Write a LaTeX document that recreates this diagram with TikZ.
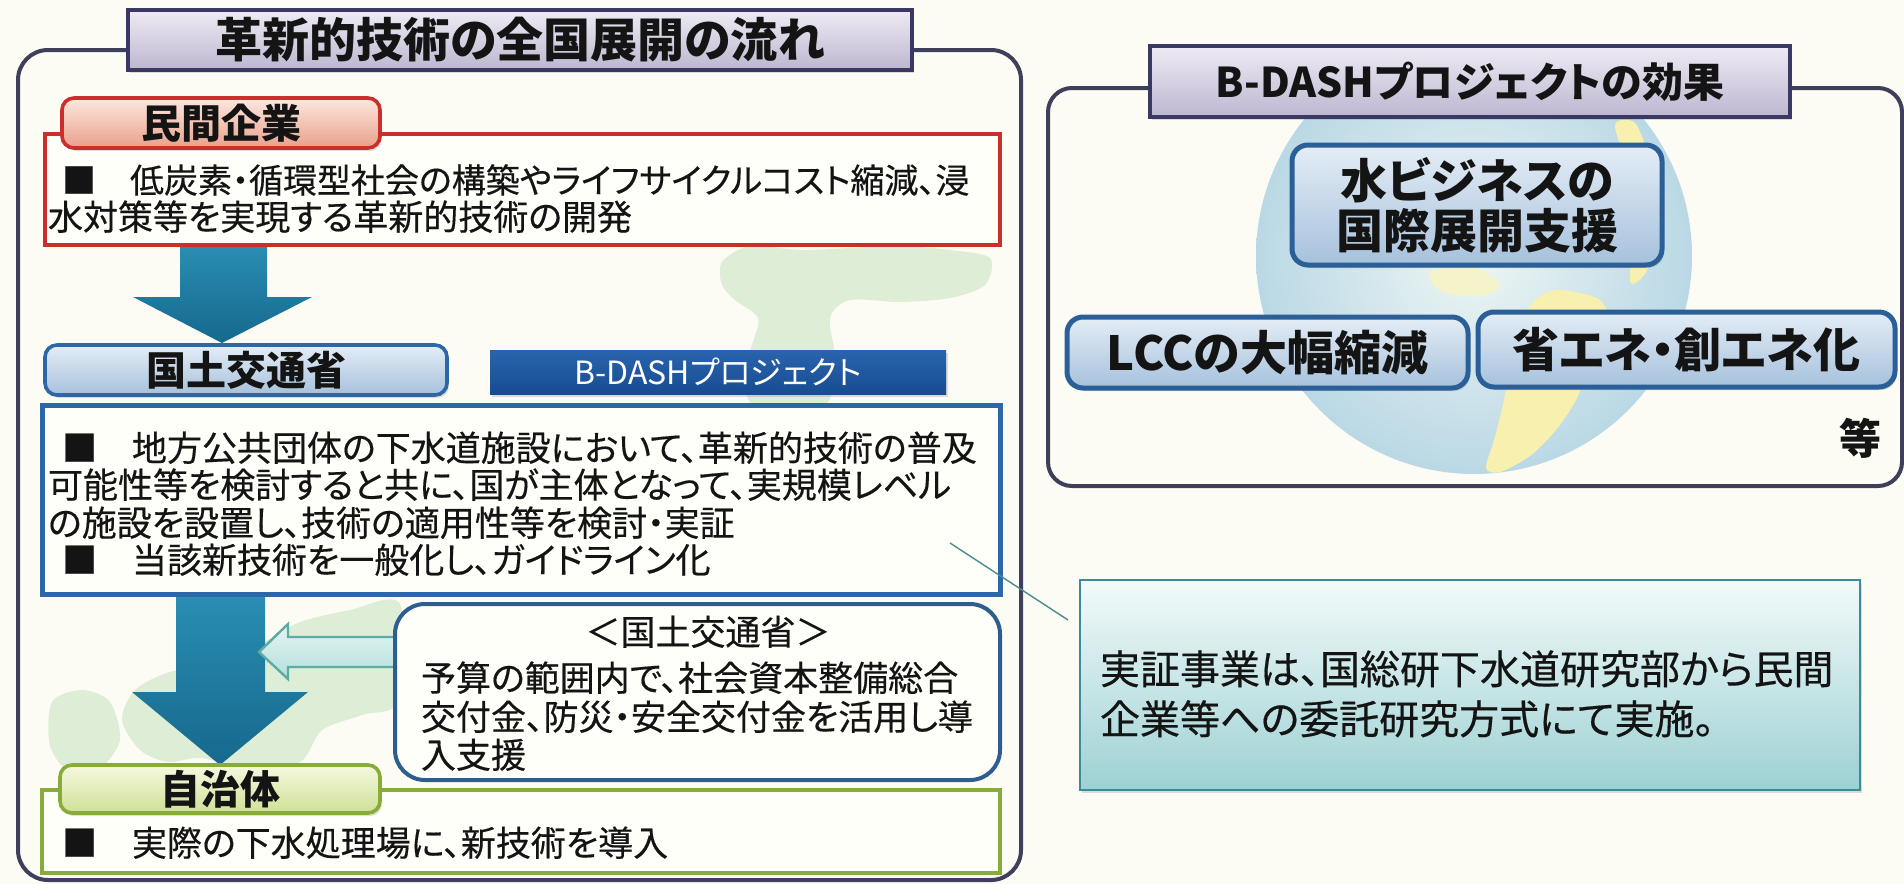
\documentclass[tikz,border=0pt]{standalone}
\usepackage{fontspec}
\setmainfont{Noto Sans CJK JP}[RawFeature=+palt]
\newfontfamily\jpbody{Noto Sans CJK JP}[RawFeature=+palt, FakeBold=0.4]
\usetikzlibrary{fit,shadows}

\definecolor{paper}{HTML}{FCFCF4}
\definecolor{boxwhite}{HTML}{FFFFFA}
\definecolor{frameC}{HTML}{3F3F5C}
\definecolor{titleT}{HTML}{EFEBF4}
\definecolor{titleB}{HTML}{BDB6D0}
\definecolor{titleD}{HTML}{3A3966}
\definecolor{redD}{HTML}{C9302C}
\definecolor{redT}{HTML}{FCE8DF}
\definecolor{redB}{HTML}{E9A08A}
\definecolor{blueD}{HTML}{2C67A8}
\definecolor{blueT}{HTML}{E4EDF6}
\definecolor{blueB}{HTML}{A6C1DC}
\definecolor{barT}{HTML}{2A64AE}
\definecolor{barB}{HTML}{174C90}
\definecolor{greenD}{HTML}{88AC3A}
\definecolor{greenT}{HTML}{F6F9E0}
\definecolor{greenB}{HTML}{CFE095}
\definecolor{arrowT}{HTML}{2A8DB3}
\definecolor{arrowB}{HTML}{15698C}
\definecolor{aquaT}{HTML}{E4F5F3}
\definecolor{aquaB}{HTML}{B3DFDB}
\definecolor{aquaD}{HTML}{5DAAA7}
\definecolor{subD}{HTML}{2D5E8F}
\definecolor{effD}{HTML}{2A5F98}
\definecolor{noteT}{HTML}{F3FAFA}
\definecolor{noteB}{HTML}{9DD1D3}
\definecolor{noteD}{HTML}{3B8B98}
\definecolor{mapG}{HTML}{DDEDD6}
\definecolor{globeIn}{HTML}{EEF6F4}
\definecolor{globeOut}{HTML}{BAD8E5}
\definecolor{landY}{HTML}{F7F0AE}
\definecolor{connC}{HTML}{4C8C8E}
\definecolor{ink}{HTML}{141414}

\tikzset{
  every node/.style={inner sep=0pt, outer sep=0pt, text=ink},
  softshadow/.style={drop shadow={opacity=0.25, shadow xshift=1pt, shadow yshift=-1.5pt}},
  panel/.style={draw=frameC, line width=2pt, rounded corners=15pt},
  headbox/.style={draw=titleD, line width=2pt, top color=titleT, bottom color=titleB, softshadow},
  headtext/.style={font=\fontsize{23.5}{28}\selectfont\bfseries},
  tagbox/.style={line width=1.8pt, rounded corners=6pt, softshadow},
  tagtext/.style={font=\fontsize{20}{24}\selectfont\bfseries},
  redtag/.style={tagbox, draw=redD, top color=redT, bottom color=redB},
  bluetag/.style={tagbox, draw=blueD, top color=blueT, bottom color=blueB},
  greentag/.style={tagbox, draw=greenD, top color=greenT, bottom color=greenB},
  bodybox/.style={fill=boxwhite, line width=2pt},
  bar/.style={top color=barT, bottom color=barB, softshadow},
  bartext/.style={text=white, font=\fontsize{16}{19}\selectfont},
  txt/.style={anchor=base west, font=\jpbody\fontsize{17.5}{21}\selectfont},
  subbox/.style={draw=subD, fill=boxwhite, line width=2pt, rounded corners=15pt},
  bigarrow/.style={top color=arrowT, bottom color=arrowB},
  aquaarrow/.style={draw=aquaD, line width=1.2pt, top color=aquaT, bottom color=aquaB},
  effbox/.style={draw=effD, line width=2.5pt, rounded corners=8pt, top color=blueT,
    bottom color=blueB, softshadow},
  efftext/.style={align=center, font=\fontsize{23.5}{25}\selectfont\bfseries},
  notebox/.style={draw=noteD, line width=0.9pt, top color=noteT, bottom color=noteB, softshadow},
  notetxt/.style={anchor=base west, font=\jpbody\fontsize{20}{24}\selectfont},
  conn/.style={draw=connC, line width=0.7pt},
}

\begin{document}
\begin{tikzpicture}[x=0.5pt,y=-0.5pt]
\fill[paper] (0,0) rectangle (1904,884);
\useasboundingbox (0,0) rectangle (1904,884);

% faint map of Japan behind the left panel
\fill[mapG] plot[smooth cycle, tension=0.5] coordinates {(722,262) (750,246) (800,250) (850,248)
  (900,246) (950,250) (990,258) (985,285) (950,298) (900,302) (850,300) (830,318) (835,360)
  (825,405) (760,410) (742,380) (752,345) (758,318) (735,300) (722,285)};
\fill[mapG] plot[smooth cycle, tension=0.5] coordinates {(135,690) (170,672) (230,660) (268,640)
  (300,622) (350,610) (400,604) (400,700) (362,715) (322,730) (300,762) (250,768) (200,758)
  (168,762) (140,750) (122,720)};
\fill[mapG] plot[smooth cycle, tension=0.5] coordinates {(52,702) (82,690) (110,702) (120,740)
  (100,768) (70,772) (50,746)};

% left panel: nationwide roll-out of new technology
\node[panel, fit={(18,50) (1021,880)}] (leftpanel) {};
\node[headbox, fit={(128,10) (912,70)}] (lefthead) {};
\node[headtext] (leftheadtext) at (lefthead.center) {革新的技術の全国展開の流れ};

% private companies
\node[bodybox, draw=redD, fit={(45,134) (1000,245)}] (redbody) {};
\node[redtag, fit={(62,98) (380,148)}] (redtag) {};
\node[tagtext] (redtagtext) at (redtag.center) {民間企業};
\node[txt, font=\jpbody\fontsize{17}{21}\selectfont] (red1) at (62,193)
  {■　低炭素・循環型社会の構築やライフサイクルコスト縮減、浸};
\node[txt] (red2) at (48,230) {水対策等を実現する革新的技術の開発};

\shade[bigarrow] (180,247) -- (267,247) -- (267,297) -- (312,297) -- (222,343) -- (133,297)
  -- (180,297) -- cycle;

% ministry
\node[bodybox, draw=blueD, line width=2.5pt, fit={(42,405) (1000,594)}] (bluebody) {};
\node[bluetag, fit={(45,345) (447,395)}] (bluetag) {};
\node[tagtext] (bluetagtext) at (bluetag.center) {国土交通省};
\node[bar, fit={(490,350) (946,394)}] (bdashbar) {};
\node[bartext] (bdashbartext) at (bdashbar.center) {B-DASHプロジェクト};
\node[txt] (blue1) at (62,461) {■　地方公共団体の下水道施設において、革新的技術の普及};
\node[txt] (blue2) at (48,498) {可能性等を検討すると共に、国が主体となって、実規模レベル};
\node[txt] (blue3) at (48,536) {の施設を設置し、技術の適用性等を検討・実証};
\node[txt] (blue4) at (62,573) {■　当該新技術を一般化し、ガイドライン化};

\shade[bigarrow] (176,597) -- (265,597) -- (265,692) -- (308,692) -- (220,765) -- (132,692)
  -- (176,692) -- cycle;

% subsidy support
\path[aquaarrow] (397,637) -- (288,637) -- (288,624) -- (259,652) -- (288,679) -- (288,667)
  -- (397,667) -- cycle;
\node[subbox, fit={(395,604) (1000,780)}] (subbox) {};
\node[txt, anchor=base] (subhead) at (708,645) {＜国土交通省＞};
\node[txt] (sub1) at (421,691) {予算の範囲内で、社会資本整備総合};
\node[txt] (sub2) at (421,730) {交付金、防災・安全交付金を活用し導};
\node[txt] (sub3) at (421,768) {入支援};

% municipalities
\node[bodybox, draw=greenD, fit={(42,790) (1000,873)}] (greenbody) {};
\node[greentag, fit={(60,765) (380,813)}] (greentag) {};
\node[tagtext] (greentagtext) at (greentag.center) {自治体};
\node[txt] (green1) at (62,856) {■　実際の下水処理場に、新技術を導入};

% right panel: effects of the project, over a globe
\begin{scope}
  \clip[rounded corners=12pt] (1048,88) rectangle (1902,486);
  \shade[inner color=globeIn, outer color=globeOut] (1474,256) circle [radius=109pt];
  \fill[landY] plot[smooth cycle, tension=0.5] coordinates {(1560,290) (1600,300) (1610,330)
    (1592,362) (1576,400) (1556,430) (1530,456) (1500,472) (1486,468) (1494,440) (1504,400)
    (1510,360) (1520,320) (1540,296)};
  \fill[landY!60!globeIn] plot[smooth cycle, tension=0.5] coordinates {(1430,272) (1470,266)
    (1500,284) (1482,296) (1442,292)};
  \fill[landY] plot[smooth cycle, tension=0.5] coordinates {(1615,125) (1636,124) (1652,172)
    (1656,232) (1646,272) (1630,282) (1634,230) (1628,170)};
\end{scope}
\node[panel, rounded corners=12pt, fit={(1048,88) (1902,486)}] (rightpanel) {};
\node[headbox, fit={(1150,46) (1790,117)}] (righthead) {};
\node[headtext, font=\fontsize{20.5}{25}\selectfont\bfseries] (rightheadtext)
  at (righthead.center) {B-DASHプロジェクトの効果};
\node[effbox, fit={(1292,145) (1662,265)}] (effwater) {};
\node[efftext] (effwatertext) at (effwater.center) {水ビジネスの\\国際展開支援};
\node[effbox, fit={(1067,317) (1468,388)}] (efflcc) {};
\node[efftext] (efflcctext) at (efflcc.center) {LCCの大幅縮減};
\node[effbox, fit={(1478,312) (1895,387)}] (effenergy) {};
\node[efftext] (effenergytext) at (effenergy.center) {省エネ・創エネ化};
\node[font=\fontsize{21}{25}\selectfont\bfseries] (etc) at (1860,438) {等};

% note on the demonstration projects
\node[notebox, fit={(1080,580) (1860,790)}] (note) {};
\node[notetxt] (note1) at (1100,684) {実証事業は、国総研下水道研究部から民間};
\node[notetxt] (note2) at (1100,734) {企業等への委託研究方式にて実施。};

\coordinate (linkstart) at (950,543);
\coordinate (linkend) at (1068,620);
\draw[conn] (linkstart) -- (linkend);
\end{tikzpicture}
\end{document}
